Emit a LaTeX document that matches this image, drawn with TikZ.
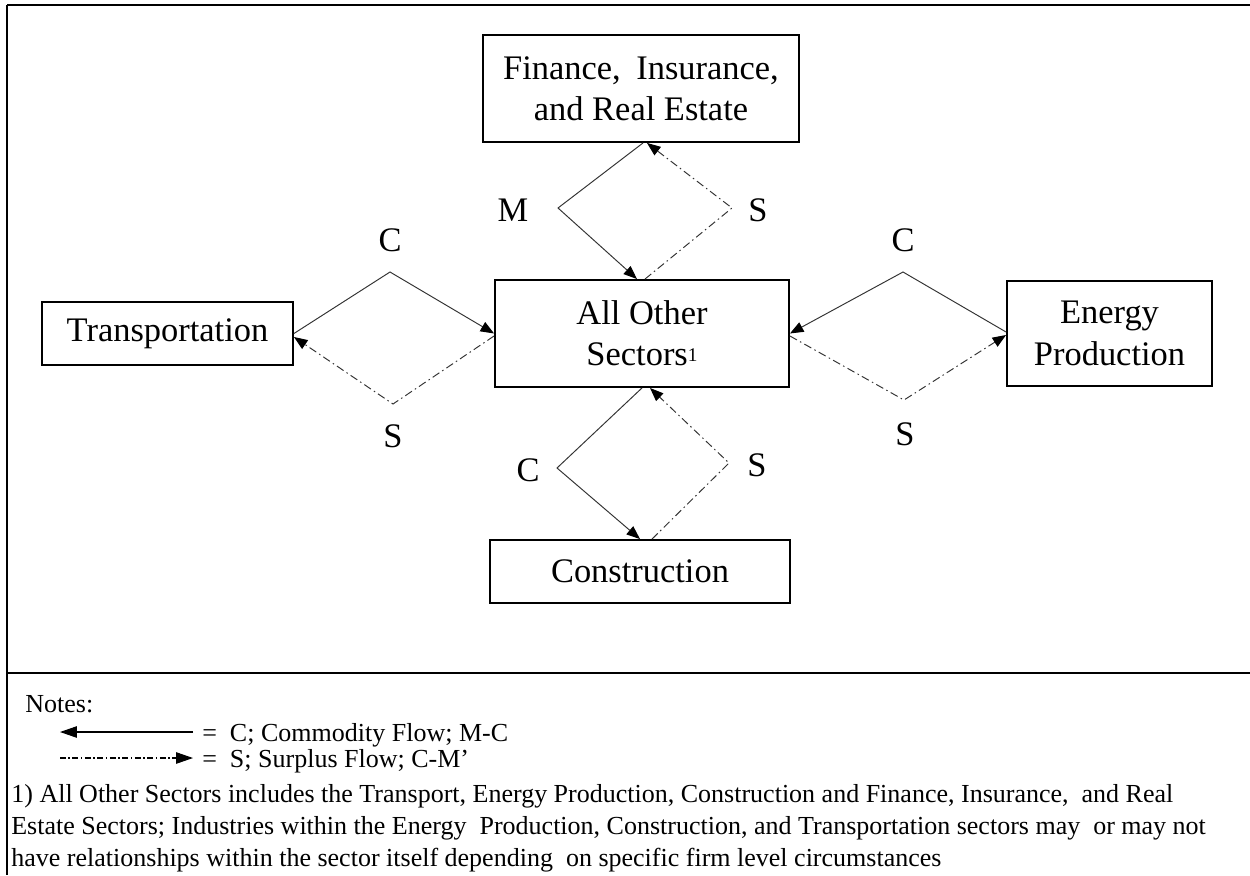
\documentclass[tikz,border=0pt]{standalone}
\usepackage{fontspec}
\setmainfont{Liberation Serif}
\usetikzlibrary{arrows.meta}
\newcommand\boxfont{\fontsize{19.6pt}{23.5pt}\selectfont}
\newcommand\notefont{\fontsize{14.8pt}{18pt}\selectfont}
\newcommand\smallone{\raisebox{0.12em}{\fontsize{11pt}{11pt}\selectfont 1}}
\begin{document}
\begin{tikzpicture}[x=0.02cm,y=-0.02cm,
  box/.style={draw,line width=1.1pt,inner sep=0pt,align=center,font=\boxfont},
  lab/.style={inner sep=0pt,font=\boxfont},
  cflow/.style={draw=black!80,line width=0.55pt,-{Triangle[length=0.27cm,width=0.21cm,color=black]}},
  sflow/.style={cflow,dash pattern=on 0.16cm off 0.07cm on 0.03cm off 0.07cm},
  legc/.style={draw=black,line width=0.6pt,-{Triangle[length=0.34cm,width=0.23cm]}},
  legs/.style={legc,dash pattern=on 0.12cm off 0.05cm on 0.03cm off 0.05cm},
  note/.style={anchor=base west,inner sep=0pt,font=\notefont},
  frame/.style={line width=1.6pt}]
\useasboundingbox (0,0) rectangle (1250,875);
% frame
\coordinate (tl) at (7,5); \coordinate (tr) at (1250,5);
\coordinate (bl) at (7,875);
\coordinate (sl) at (7,673); \coordinate (sr) at (1250,673);
\draw[frame] (tl) -- (tr);
\draw[line width=1.3pt] (tl) -- (bl);
\draw[frame] (sl) -- (sr);
% boxes
\node[box,minimum width=6.32cm,minimum height=2.14cm] (fin) at (641,88.5) {Finance,\hspace{0.45em}Insurance,\\and Real Estate};
\node[box,minimum width=5.88cm,minimum height=2.14cm] (ctr) at (642,333.5) {All Other\\Sectors\smallone};
\node[box,minimum width=5.02cm,minimum height=1.26cm] (trans) at (167.5,333.5) {Transportation};
\node[box,minimum width=4.10cm,minimum height=2.10cm] (ener) at (1109.5,333.5) {Energy\\Production};
\node[box,minimum width=6.0cm,minimum height=1.26cm] (cons) at (640,571.5) {Construction};
% diamond vertices
\coordinate (vM) at (558,208); \coordinate (vS1) at (732,208);
\coordinate (vCL) at (390,272); \coordinate (vSL) at (393,404);
\coordinate (vCR) at (903,272); \coordinate (vSR) at (904,400);
\coordinate (vCB) at (557,468); \coordinate (vSB) at (729,463);
% connectors
\draw[cflow] ([xshift=0.04cm]fin.south) -- (vM) -- ([xshift=-0.1cm]ctr.north);
\draw[sflow] ([xshift=0.06cm]ctr.north) -- (vS1) -- ([xshift=0.12cm]fin.south);
\draw[cflow] (trans.east) -- (vCL) -- (ctr.west);
\draw[sflow] ([yshift=-0.05cm]ctr.west) -- (vSL) -- ([yshift=-0.07cm]trans.east);
\draw[cflow] ([yshift=0.03cm]ener.west) -- (vCR) -- (ctr.east);
\draw[sflow] ([yshift=-0.05cm]ctr.east) -- (vSR) -- ([yshift=-0.03cm]ener.west);
\draw[cflow] (ctr.south) -- (vCB) -- (cons.north);
\draw[sflow] ([xshift=0.24cm]cons.north) -- (vSB) -- ([xshift=0.16cm]ctr.south);
% labels
\node[lab] (lM) at (513,210) {M};
\node[lab] (lS1) at (758,210) {S};
\node[lab] (lCL) at (390,240) {C};
\node[lab] (lSL) at (393,436) {S};
\node[lab] (lCR) at (903,240) {C};
\node[lab] (lSR) at (905,434) {S};
\node[lab] (lCB) at (528,470) {C};
\node[lab] (lSB) at (757,465) {S};
% notes
\node[note] (notes) at (25,712) {Notes:};
\coordinate (a1s) at (193,732); \coordinate (a1e) at (60,732);
\draw[legc] (a1s) -- (a1e);
\coordinate (a2s) at (60,758); \coordinate (a2e) at (193,758);
\draw[legs] (a2s) -- (a2e);
\node[note] (leg1) at (202,741) {=\ \ C; Commodity Flow; M-C};
\node[note] (leg2) at (202,767) {=\ \ S; Surplus Flow; C-M’};
\node[note] (n1) at (11,802) {1) All Other Sectors includes the Transport, Energy Production, Construction and Finance, Insurance,\ \ and Real};
\node[note] (n2) at (11,834) {Estate Sectors; Industries within the Energy\ \ Production, Construction, and Transportation sectors may\ \ or may not};
\node[note] (n3) at (11,866) {have relationships within the sector itself depending\ \ on specific firm level circumstances};
\end{tikzpicture}
\end{document}
